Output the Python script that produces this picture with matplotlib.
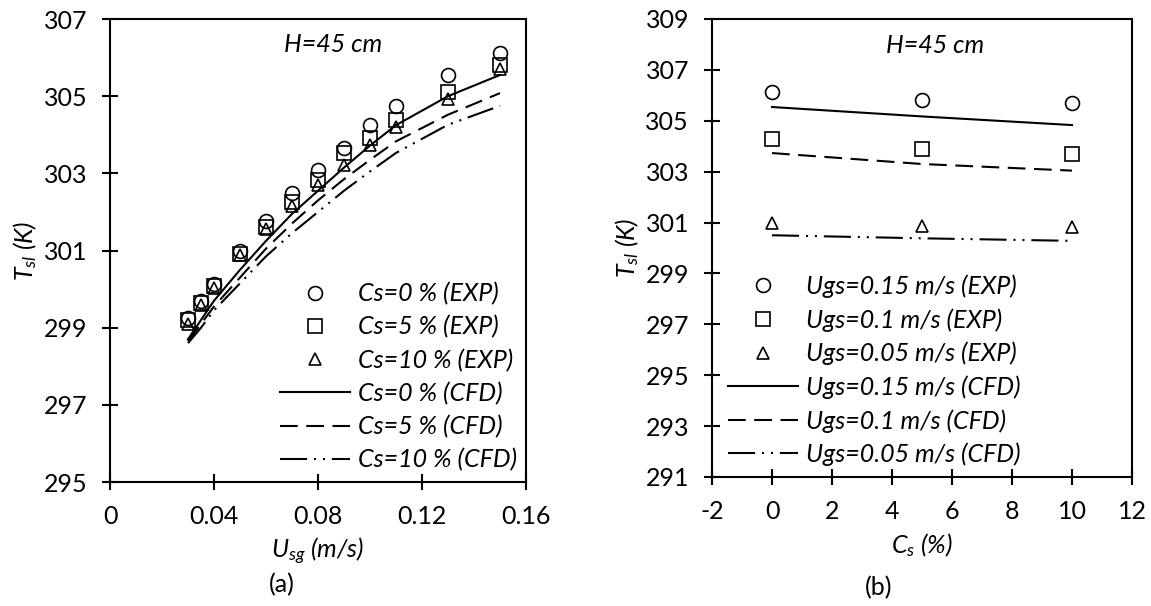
import numpy as np
import matplotlib
matplotlib.use("Agg")
import matplotlib.pyplot as plt

plt.rcParams['font.family'] = ['Lato', 'DejaVu Sans']
plt.rcParams['mathtext.fontset'] = 'custom'
plt.rcParams['mathtext.rm'] = 'Lato'
plt.rcParams['mathtext.it'] = 'Lato:italic'
plt.rcParams['axes.unicode_minus'] = False

# ===== Panel (a): temperature vs superficial gas velocity =====
usg_exp = [0.03, 0.035, 0.04, 0.05, 0.06, 0.07, 0.08, 0.09, 0.10, 0.11, 0.13, 0.15]
t_exp_cs0 = [299.25, 299.7, 300.12, 300.98, 301.76, 302.49, 303.08, 303.65, 304.26, 304.75, 305.55, 306.12]
t_exp_cs5 = [299.2, 299.64, 300.07, 300.92, 301.6, 302.25, 302.83, 303.52, 303.91, 304.39, 305.12, 305.8]
t_exp_cs10 = [299.1, 299.6, 300.02, 300.88, 301.55, 302.15, 302.7, 303.22, 303.74, 304.19, 304.92, 305.7]

usg_cfd = [0.03, 0.035, 0.04, 0.05, 0.06, 0.07, 0.08, 0.09, 0.10, 0.11, 0.13, 0.15]
t_cfd_cs0 = [298.7, 299.2, 299.7, 300.5, 301.25, 301.95, 302.55, 303.15, 303.72, 304.25, 305.0, 305.55]
t_cfd_cs5 = [298.65, 299.1, 299.55, 300.3, 301.05, 301.7, 302.3, 302.85, 303.35, 303.83, 304.52, 305.08]
t_cfd_cs10 = [298.6, 299.0, 299.45, 300.15, 300.85, 301.45, 302.0, 302.55, 303.05, 303.53, 304.26, 304.75]

a_xticks = [0, 0.04, 0.08, 0.12, 0.16]
a_xticklabels = ['0', '0.04', '0.08', '0.12', '0.16']
a_yticks = [295, 297, 299, 301, 303, 305, 307]

# ===== Panel (b): temperature vs solid concentration =====
cs = [0, 5, 10]
t_exp_u15 = [306.13, 305.83, 305.7]
t_exp_u10 = [304.28, 303.88, 303.7]
t_exp_u05 = [301.0, 300.88, 300.82]
t_cfd_u15 = [305.54, 305.17, 304.83]
t_cfd_u10 = [303.73, 303.3, 303.04]
t_cfd_u05 = [300.5, 300.38, 300.28]

b_xticks = [-2, 0, 2, 4, 6, 8, 10, 12]
b_yticks = [291, 293, 295, 297, 299, 301, 303, 305, 307, 309]

# line styles (in units of line width)
dashed = (0, (8.5, 4.1))
dashdotdot = (0, (13, 3.3, 1, 3.3, 1, 3.3))
lw = 1.5
fs = 18
mk = dict(linestyle='none', markerfacecolor='none', markeredgecolor='black',
          markeredgewidth=1.2)

fig = plt.figure(figsize=(11.51, 6.06), dpi=100)
ax1 = fig.add_axes([0.0956, 0.2046, 0.3614, 0.764])
ax2 = fig.add_axes([0.6186, 0.2129, 0.3649, 0.7558])


def style_axes(ax):
    for s in ax.spines.values():
        s.set_linewidth(1.5)
    ax.tick_params(direction='inout', length=11, width=1.5, labelsize=fs,
                   pad=11, top=False, right=False)


# --- (a) ---
ax1.plot(usg_exp, t_exp_cs0, marker='o', markersize=10, label='Cs=0 % (EXP)', **mk)
ax1.plot(usg_exp, t_exp_cs5, marker='s', markersize=10, label='Cs=5 % (EXP)', **mk)
ax1.plot(usg_exp, t_exp_cs10, marker='^', markersize=9, label='Cs=10 % (EXP)', **mk)
ax1.plot(usg_cfd, t_cfd_cs0, color='black', linewidth=lw, label='Cs=0 % (CFD)')
ax1.plot(usg_cfd, t_cfd_cs5, color='black', linewidth=lw, linestyle=dashed,
         label='Cs=5 % (CFD)')
ax1.plot(usg_cfd, t_cfd_cs10, color='black', linewidth=lw, linestyle=dashdotdot,
         label='Cs=10 % (CFD)')

ax1.set_xlim(0, 0.16)
ax1.set_ylim(295, 307)
ax1.set_xticks(a_xticks, a_xticklabels)
ax1.set_yticks(a_yticks)
style_axes(ax1)
ax1.set_xlabel(r'$U_{sg}$ (m/s)', fontsize=fs, style='italic', labelpad=6)
ax1.set_ylabel(r'$T_{sl}$ (K)', fontsize=fs, style='italic', labelpad=3)
ax1.text(0.536, 0.944, 'H=45 cm', transform=ax1.transAxes, fontsize=fs,
         style='italic', ha='center', va='center')
ax1.legend(loc='upper left', bbox_to_anchor=(0.409, 0.432), frameon=False,
           prop={'style': 'italic', 'size': fs}, borderpad=0,
           borderaxespad=0, handlelength=2.8, handletextpad=0.32,
           labelspacing=0.4, numpoints=1)

# --- (b) ---
ax2.plot(cs, t_exp_u15, marker='o', markersize=10, label='Ugs=0.15 m/s (EXP)', **mk)
ax2.plot(cs, t_exp_u10, marker='s', markersize=10, label='Ugs=0.1 m/s (EXP)', **mk)
ax2.plot(cs, t_exp_u05, marker='^', markersize=9, label='Ugs=0.05 m/s (EXP)', **mk)
ax2.plot(cs, t_cfd_u15, color='black', linewidth=lw, label='Ugs=0.15 m/s (CFD)')
ax2.plot(cs, t_cfd_u10, color='black', linewidth=lw, linestyle=dashed,
         label='Ugs=0.1 m/s (CFD)')
ax2.plot(cs, t_cfd_u05, color='black', linewidth=lw, linestyle=dashdotdot,
         label='Ugs=0.05 m/s (CFD)')

ax2.set_xlim(-2, 12)
ax2.set_ylim(291, 309)
ax2.set_xticks(b_xticks)
ax2.set_yticks(b_yticks)
style_axes(ax2)
ax2.set_xlabel(r'$C_{s}$ (%)', fontsize=fs, style='italic', labelpad=6)
ax2.set_ylabel(r'$T_{sl}$ (K)', fontsize=fs, style='italic', labelpad=3)
ax2.text(0.531, 0.943, 'H=45 cm', transform=ax2.transAxes, fontsize=fs,
         style='italic', ha='center', va='center')
ax2.legend(loc='upper left', bbox_to_anchor=(0.038, 0.442), frameon=False,
           prop={'style': 'italic', 'size': fs}, borderpad=0,
           borderaxespad=0, handlelength=2.8, handletextpad=0.32,
           labelspacing=0.4, numpoints=1)

# panel captions
fig.text(282 / 1151, 1 - 585 / 606, '(a)', fontsize=fs, ha='center', va='center')
fig.text(879 / 1151, 1 - 588 / 606, '(b)', fontsize=fs, ha='center', va='center')

fig.savefig('out.png', dpi=100)
